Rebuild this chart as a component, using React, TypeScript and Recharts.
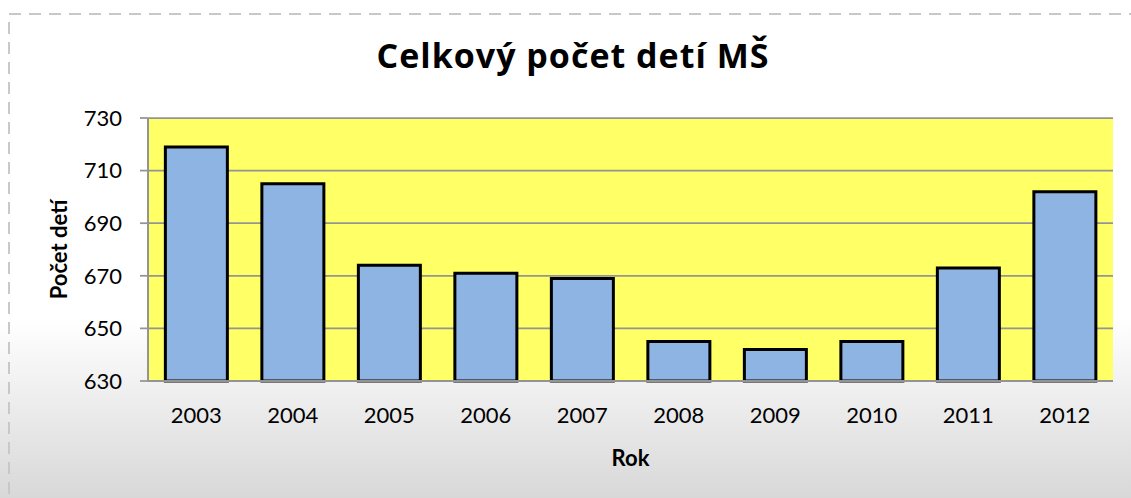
import React from 'react';
import { BarChart, Bar, XAxis, YAxis, CartesianGrid } from 'recharts';

const years = ['2003', '2004', '2005', '2006', '2007', '2008', '2009', '2010', '2011', '2012'];
const childCounts = [719, 705, 674, 671, 669, 645, 642, 645, 673, 702];
const yTicks = [630, 650, 670, 690, 710, 730];

const data = years.map((rok, i) => ({ rok, pocet: childCounts[i] }));

const font = 'Lato, "Open Sans", sans-serif';

export default function App() {
  return (
    <div
      style={{
        position: 'absolute',
        left: 0,
        top: 0,
        width: 1131,
        height: 498,
        overflow: 'hidden',
        fontFamily: font,
        background: 'linear-gradient(to bottom, #ffffff 0%, #ffffff 64%, #d8d8d8 100%)',
      }}
    >
      <svg width={1131} height={498} style={{ position: 'absolute', left: 0, top: 0 }}>
        <rect
          x={9}
          y={14}
          width={1200}
          height={600}
          fill="none"
          stroke="#c8c8c8"
          strokeWidth={2}
          strokeDasharray="12 8"
        />
        <text
          x={573}
          y={68}
          textAnchor="middle"
          style={{
            fontFamily: '"Open Sans", sans-serif',
            fontSize: 34,
            fontWeight: 700,
            letterSpacing: 1,
            fill: '#000',
          }}
        >
          Celkový počet detí MŠ
        </text>
      </svg>
      <div style={{ position: 'absolute', left: 0, top: 0 }}>
        <BarChart
          width={1131}
          height={498}
          data={data}
          margin={{ top: 118, right: 18, bottom: 0, left: 0 }}
          barCategoryGap="18%"
        >
          <CartesianGrid vertical={false} fill="#ffff66" stroke="#949494" strokeWidth={1.75} />
          <XAxis
            dataKey="rok"
            height={117}
            tickLine={false}
            tickSize={0}
            tickMargin={26}
            axisLine={{ stroke: '#949494', strokeWidth: 2 }}
            tick={{ fill: '#000', fontSize: 22, fontFamily: font }}
            label={{
              value: 'Rok',
              position: 'insideBottom',
              offset: 32,
              style: { fill: '#000', fontSize: 22, fontWeight: 700, fontFamily: font },
            }}
          />
          <YAxis
            width={148}
            domain={[630, 730]}
            ticks={yTicks}
            interval={0}
            tickSize={8}
            tickMargin={18}
            tickLine={{ stroke: '#949494', strokeWidth: 1.75 }}
            axisLine={{ stroke: '#949494', strokeWidth: 2 }}
            tick={{ fill: '#000', fontSize: 22, fontFamily: font }}
            label={{
              value: 'Počet detí',
              angle: -90,
              position: 'insideLeft',
              offset: 59,
              style: { fill: '#000', fontSize: 22, fontWeight: 700, fontFamily: font, textAnchor: 'middle' },
            }}
          />
          <Bar
            dataKey="pocet"
            fill="#8eb4e3"
            stroke="#000"
            strokeWidth={3}
            isAnimationActive={false}
          />
        </BarChart>
      </div>
    </div>
  );
}
